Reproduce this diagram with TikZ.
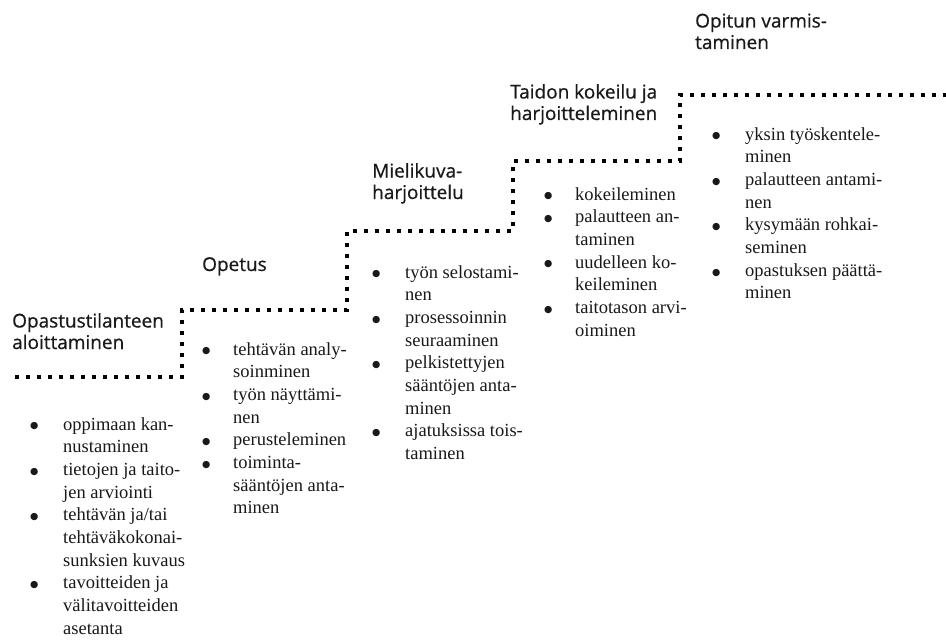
\documentclass[tikz,border=0pt]{standalone}
\usepackage{fontspec}
\setmainfont{Liberation Serif}
\newfontfamily\headfont[FakeBold=0.6]{Open Sans}
\newfontfamily\symfont{DejaVu Sans}
\newcommand\itm{\raisebox{1.2pt}{\symfont\fontsize{9.5}{9.5}\selectfont ●} &}
\begin{document}
\begin{tikzpicture}[x=1pt,y=-1pt,
  head/.style={anchor=base west, inner sep=0pt, font=\headfont\fontsize{19}{21.5}\selectfont, align=left, text=black!90},
  blist/.style={anchor=base west, inner sep=0pt, font=\fontsize{18.5}{22.7}\selectfont, text=black!90},
  stair/.style={line width=4pt, dash pattern=on 4pt off 7pt}]
\useasboundingbox (0,0) rectangle (946,642);
% staircase corners
\coordinate (s0) at (15,377);
\coordinate (s1) at (182,377);
\coordinate (s2) at (182,310);
\coordinate (s3) at (347,310);
\coordinate (s4) at (347,231);
\coordinate (s5) at (513,231);
\coordinate (s6) at (513,161);
\coordinate (s7) at (680,161);
\coordinate (s8) at (680,95);
\coordinate (s9) at (946,95);
\draw[stair] (s0) -- (s1) -- (s2) -- (s3) -- (s4) -- (s5) -- (s6) -- (s7) -- (s8) -- (s9);
% headings (anchor = baseline of the last line)
\node[head] (h1) at (12,349) {Opastustilanteen\\aloittaminen};
\node[head] (h2) at (202,271) {Opetus};
\node[head] (h3) at (372,199) {Mielikuva-\\harjoittelu};
\node[head] (h4) at (510,120) {Taidon kokeilu ja\\harjoitteleminen};
\node[head] (h5) at (695,49) {Opitun varmis-\\taminen};
% lists
\node[blist] (l1) at (30,430) {\begin{tabular}[t]{@{}p{33pt}@{}l@{}}
\itm oppimaan kan-\\
& nustaminen\\
\itm tietojen ja taito-\\
& jen arviointi\\
\itm tehtävän ja/tai\\
& tehtäväkokonai-\\
& sunksien kuvaus\\
\itm tavoitteiden ja\\
& välitavoitteiden\\
& asetanta
\end{tabular}};
\node[blist] (l2) at (202,355) {\begin{tabular}[t]{@{}p{31pt}@{}l@{}}
\itm tehtävän analy-\\
& soinminen\\
\itm työn näyttämi-\\
& nen\\
\itm perusteleminen\\
\itm toiminta-\\
& sääntöjen anta-\\
& minen
\end{tabular}};
\node[blist] (l3) at (372,278) {\begin{tabular}[t]{@{}p{33pt}@{}l@{}}
\itm työn selostami-\\
& nen\\
\itm prosessoinnin\\
& seuraaminen\\
\itm pelkistettyjen\\
& sääntöjen anta-\\
& minen\\
\itm ajatuksissa tois-\\
& taminen
\end{tabular}};
\node[blist] (l4) at (544,200) {\begin{tabular}[t]{@{}p{31pt}@{}l@{}}
\itm kokeileminen\\
\itm palautteen an-\\
& taminen\\
\itm uudelleen ko-\\
& keileminen\\
\itm taitotason arvi-\\
& oiminen
\end{tabular}};
\node[blist] (l5) at (712,140) {\begin{tabular}[t]{@{}p{33pt}@{}l@{}}
\itm yksin työskentele-\\
& minen\\
\itm palautteen antami-\\
& nen\\
\itm kysymään rohkai-\\
& seminen\\
\itm opastuksen päättä-\\
& minen
\end{tabular}};
\end{tikzpicture}
\end{document}
